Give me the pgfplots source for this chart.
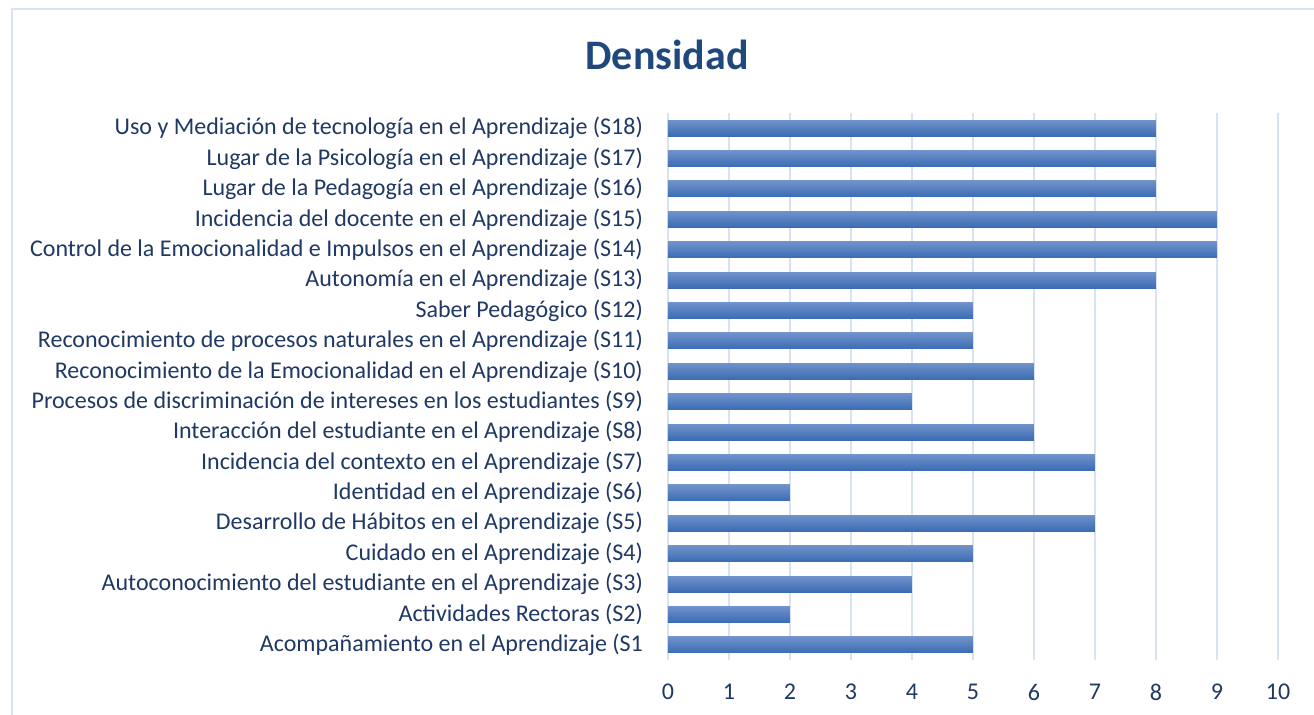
\documentclass[border=0pt]{standalone}
\usepackage{fontspec}
\setmainfont{Carlito}
\usepackage{pgfplots}
\pgfplotsset{compat=1.18}
\definecolor{lblblue}{RGB}{31,56,100}
\definecolor{ttlblue}{RGB}{31,73,125}
\definecolor{gridblue}{RGB}{217,226,243}
\definecolor{bartop}{RGB}{112,146,203}
\definecolor{barbot}{RGB}{59,108,179}

\begin{document}
\begin{tikzpicture}
\path[use as bounding box] (0,0) rectangle (657pt,-357.5pt);
% chart frame
\draw[gridblue, line width=1.2pt] (6pt,-400pt) -- (6pt,-4.5pt) -- (700pt,-4.5pt);
\node[font=\fontsize{21}{25}\selectfont\bfseries, text=ttlblue] at (333.5pt,-27.5pt) {Densidad};
\begin{axis}[
    at={(334pt,-330pt)}, anchor=south west,
    scale only axis, width=305pt, height=273.5pt,
    xbar, bar width=8pt,
    xmin=0, xmax=10, ymin=0.5, ymax=18.5,
    xtick={0,...,10}, ytick={1,...,18},
    yticklabels={
        Acompañamiento en el Aprendizaje (S1,
        Actividades Rectoras (S2),
        Autoconocimiento del estudiante en el Aprendizaje (S3),
        Cuidado en el Aprendizaje (S4),
        Desarrollo de Hábitos en el Aprendizaje (S5),
        Identidad en el Aprendizaje (S6),
        Incidencia del contexto en el Aprendizaje (S7),
        Interacción del estudiante en el Aprendizaje (S8),
        Procesos de discriminación de intereses en los estudiantes (S9),
        Reconocimiento de la Emocionalidad en el Aprendizaje (S10),
        Reconocimiento de procesos naturales en el Aprendizaje (S11),
        Saber Pedagógico (S12),
        Autonomía en el Aprendizaje (S13),
        Control de la Emocionalidad e Impulsos en el Aprendizaje (S14),
        Incidencia del docente en el Aprendizaje (S15),
        Lugar de la Pedagogía en el Aprendizaje (S16),
        Lugar de la Psicología en el Aprendizaje (S17),
        Uso y Mediación de tecnología en el Aprendizaje (S18)
    },
    axis line style={draw=none},
    major tick length=0pt,
    xmajorgrids,
    major grid style={gridblue, line width=1pt},
    tick label style={font=\fontsize{12}{14}\selectfont, text=lblblue},
    yticklabel style={xshift=-9pt},
    xticklabel style={yshift=-8.5pt},
    /pgf/number format/assume math mode=true,
    sbar/.style={draw=none, top color=bartop, bottom color=barbot, bar shift=0pt},
]
% one plot per bar so that each bar gets its own gradient
\addplot[sbar] coordinates {(5,1)};
\addplot[sbar] coordinates {(2,2)};
\addplot[sbar] coordinates {(4,3)};
\addplot[sbar] coordinates {(5,4)};
\addplot[sbar] coordinates {(7,5)};
\addplot[sbar] coordinates {(2,6)};
\addplot[sbar] coordinates {(7,7)};
\addplot[sbar] coordinates {(6,8)};
\addplot[sbar] coordinates {(4,9)};
\addplot[sbar] coordinates {(6,10)};
\addplot[sbar] coordinates {(5,11)};
\addplot[sbar] coordinates {(5,12)};
\addplot[sbar] coordinates {(8,13)};
\addplot[sbar] coordinates {(9,14)};
\addplot[sbar] coordinates {(9,15)};
\addplot[sbar] coordinates {(8,16)};
\addplot[sbar] coordinates {(8,17)};
\addplot[sbar] coordinates {(8,18)};
\end{axis}
\end{tikzpicture}
\end{document}
